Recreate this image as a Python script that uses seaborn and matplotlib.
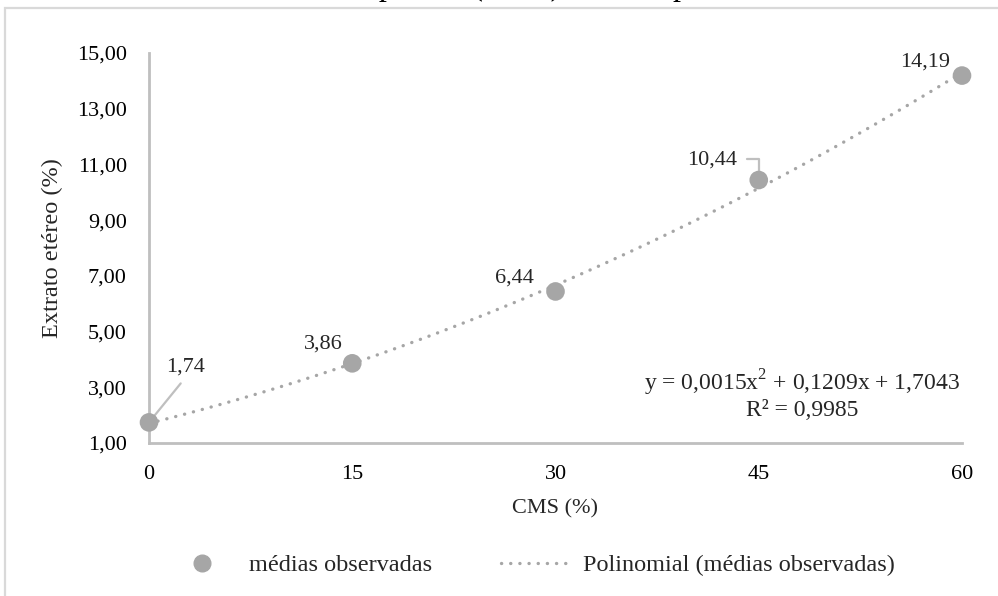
import numpy as np
import pandas as pd
import matplotlib
matplotlib.use("Agg")
import matplotlib.pyplot as plt
from matplotlib.lines import Line2D
from matplotlib.patches import Rectangle
import seaborn as sns

# ---- data ----
cms = [0, 15, 30, 45, 60]
extrato = [1.74, 3.86, 6.44, 10.44, 14.19]
point_labels = ["1,74", "3,86", "6,44", "10,44", "14,19"]
x_ticks = [0, 15, 30, 45, 60]
y_ticks = [1, 3, 5, 7, 9, 11, 13, 15]
equation = "y = 0,0015x$^2$ + 0,1209x + 1,7043"
r2_text = "R² = 0,9985"
legend_labels = ["médias observadas", "Polinomial (médias observadas)"]
top_text = "mecanicamente separada (CMS) dessa espécie."

df = pd.DataFrame({"CMS": cms, "EE": extrato})

sns.set_theme(style="white")
plt.rcParams["font.family"] = ["Liberation Serif", "DejaVu Serif"]
plt.rcParams["mathtext.fontset"] = "custom"
plt.rcParams["mathtext.rm"] = "Liberation Serif"

GRAY = "#a6a6a6"
SPINE = "#bfbfbf"
W, H = 998, 596
DOT = (0, (0.05, 2.7))
fig = plt.figure(figsize=(W / 100, H / 100), dpi=100)

# document frame and cut-off text line
fig.patches.append(Rectangle((5 / W, -0.1), 1.2, 1.1 - 8 / H, transform=fig.transFigure,
                             fill=False, edgecolor="#d9d9d9", lw=1.6))
fig.text(145 / W, 1 + 5 / H, top_text, fontsize=23, va="baseline", ha="left", color="black")

ax = fig.add_axes([149 / W, 1 - 443 / H, (962 - 149) / W, (443 - 53) / H])

sns.regplot(data=df, x="CMS", y="EE", order=2, ci=None, scatter=False, ax=ax,
            line_kws=dict(color=GRAY, lw=2.4, ls=DOT, dash_capstyle="round"))
sns.scatterplot(data=df, x="CMS", y="EE", ax=ax, color=GRAY, s=180, edgecolor="none",
                zorder=5, clip_on=False)
for c in ax.collections:
    c.set_clip_on(False)
for l in ax.lines:
    l.set_clip_on(False)

ax.set_xlim(0, 60)
ax.set_ylim(1, 15)
ax.set_xticks(x_ticks)
ax.set_xticklabels([str(v) for v in x_ticks])
ax.set_yticks(y_ticks)
ax.set_yticklabels([f"{v:.2f}".replace(".", ",") for v in y_ticks])
ax.tick_params(axis="both", length=0, labelsize=16, colors="black")
ax.tick_params(axis="x", pad=16)
ax.tick_params(axis="y", pad=16)
for s in ["top", "right"]:
    ax.spines[s].set_visible(False)
for s in ["left", "bottom"]:
    ax.spines[s].set_color(SPINE)
    ax.spines[s].set_linewidth(2)
ax.set_xlabel("CMS (%)", fontsize=16, labelpad=11)
ax.set_ylabel("Extrato etéreo (%)", fontsize=17.5, labelpad=10)
ax.grid(False)
ax.set_facecolor("white")

# data labels (offsets in pixels)
offsets = [(37, 55), (-29, 19), (-41, 13), (-47, 20), (-37, 14)]
for i, (xv, yv, lab) in enumerate(zip(cms, extrato, point_labels)):
    dx, dy = offsets[i]
    if i == 0:
        ax.annotate(lab, (xv, yv), xytext=(dx, dy), textcoords="offset pixels",
                    ha="center", va="center", fontsize=16,
                    arrowprops=dict(arrowstyle="-", color=SPINE, lw=1.6,
                                    relpos=(0.5, 0), shrinkA=3, shrinkB=4))
    elif i == 3:
        ax.annotate(lab, (xv, yv), xytext=(dx, dy), textcoords="offset pixels",
                    ha="center", va="center", fontsize=16,
                    arrowprops=dict(arrowstyle="-", color=SPINE, lw=1.6,
                                    relpos=(1, 0.55), shrinkA=5, shrinkB=6,
                                    connectionstyle="angle,angleA=0,angleB=90,rad=0"))
    else:
        ax.annotate(lab, (xv, yv), xytext=(dx, dy), textcoords="offset pixels",
                    ha="center", va="center", fontsize=16)

# equation
fig.text(802 / W, 1 - 383 / H, equation, ha="center", va="center", fontsize=17)
fig.text(802 / W, 1 - 411 / H, r2_text, ha="center", va="center", fontsize=17)

handles = [Line2D([], [], marker="o", color=GRAY, ls="none", markersize=12),
           Line2D([], [], color=GRAY, lw=2.4, ls=DOT, dash_capstyle="round")]
fig.legend(handles, legend_labels, loc="center", bbox_to_anchor=(531 / W, 1 - 565 / H),
           ncol=2, frameon=False, fontsize=17.5, handlelength=2.9, columnspacing=2.8,
           handletextpad=0.5)

fig.savefig("out.png", dpi=100)
